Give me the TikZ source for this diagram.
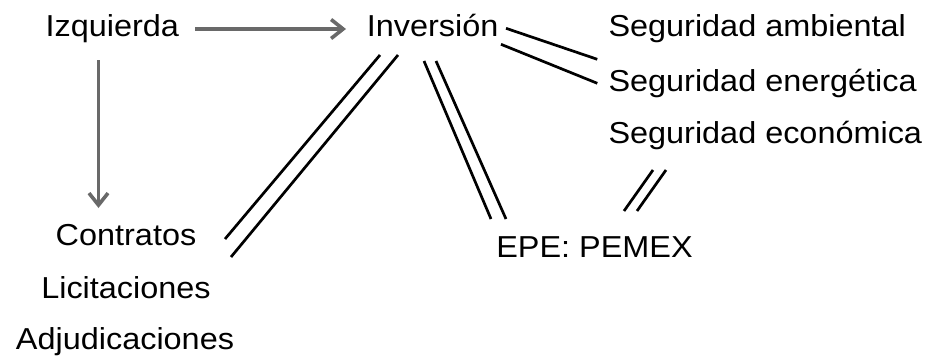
\documentclass[tikz,border=0pt]{standalone}
\usepackage{fontspec}
\setmainfont{Liberation Sans}
\usetikzlibrary{arrows.meta,calc}
\tikzset{
  lbl/.style={inner sep=0pt, outer sep=0pt, font=\fontsize{30.3}{36}\selectfont},
  grayarrow/.style={draw={rgb,255:red,105;green,105;blue,105}, line width=3.6pt,
     -{Straight Barb[length=12pt,width=19pt,line width=3.6pt]}},
  bar/.style={draw=black, line width=2.7pt}
}
\newcommand{\sx}[1]{\scalebox{1.07}[1]{#1}}
\begin{document}
\begin{tikzpicture}[x=1pt,y=-1pt]
\useasboundingbox (0,0) rectangle (938,356);
% text nodes
\node[lbl, anchor=base] (izq) at (112.3,36.7) {\sx{Izquierda}};
\node[lbl, anchor=base] (inv) at (432.7,36.7) {\sx{Inversión}};
\node[lbl, anchor=base west] (amb) at (608.5,36.7) {\sx{Seguridad ambiental}};
\node[lbl, anchor=base west] (ene) at (608.5,91.7) {\sx{Seguridad energética}};
\node[lbl, anchor=base west] (eco) at (608.5,143.5) {\sx{Seguridad económica}};
\node[lbl, anchor=base] (con) at (126,245) {\sx{Contratos}};
\node[lbl, anchor=base] (lic) at (126,298.3) {\sx{Licitaciones}};
\node[lbl, anchor=base] (adj) at (125,349.5) {\sx{Adjudicaciones}};
\node[lbl, anchor=base] (epe) at (594.5,257.3) {\sx{EPE: PEMEX}};
% arrow end points
\coordinate (h1) at (195,29);
\coordinate (h2) at (346,29);
\coordinate (v1) at (98.5,60);
\coordinate (v2) at (98.5,208);
\draw[grayarrow] (h1) -- (h2);
\draw[grayarrow] (v1) -- (v2);
% double bars Inversion - Contratos
\coordinate (a1) at (380,55);   \coordinate (a2) at (225,239);
\coordinate (b1) at (398,55);   \coordinate (b2) at (231,257);
\draw[bar] (a1) -- (a2);
\draw[bar] (b1) -- (b2);
% double bars Inversion - EPE
\coordinate (c1) at (424,61);   \coordinate (c2) at (491,219);
\coordinate (d1) at (436,61);   \coordinate (d2) at (506,219);
\draw[bar] (c1) -- (c2);
\draw[bar] (d1) -- (d2);
% double bars Inversion - Seguridad
\coordinate (e1) at (506,28.3); \coordinate (e2) at (597.3,59.3);
\coordinate (f1) at (501,44.3); \coordinate (f2) at (597.3,83.3);
\draw[bar] (e1) -- (e2);
\draw[bar] (f1) -- (f2);
% small double bars under Seguridad economica
\coordinate (g1) at (653,170);  \coordinate (g2) at (624,211);
\coordinate (k1) at (666,170);  \coordinate (k2) at (637,211);
\draw[bar] (g1) -- (g2);
\draw[bar] (k1) -- (k2);
\end{tikzpicture}
\end{document}
